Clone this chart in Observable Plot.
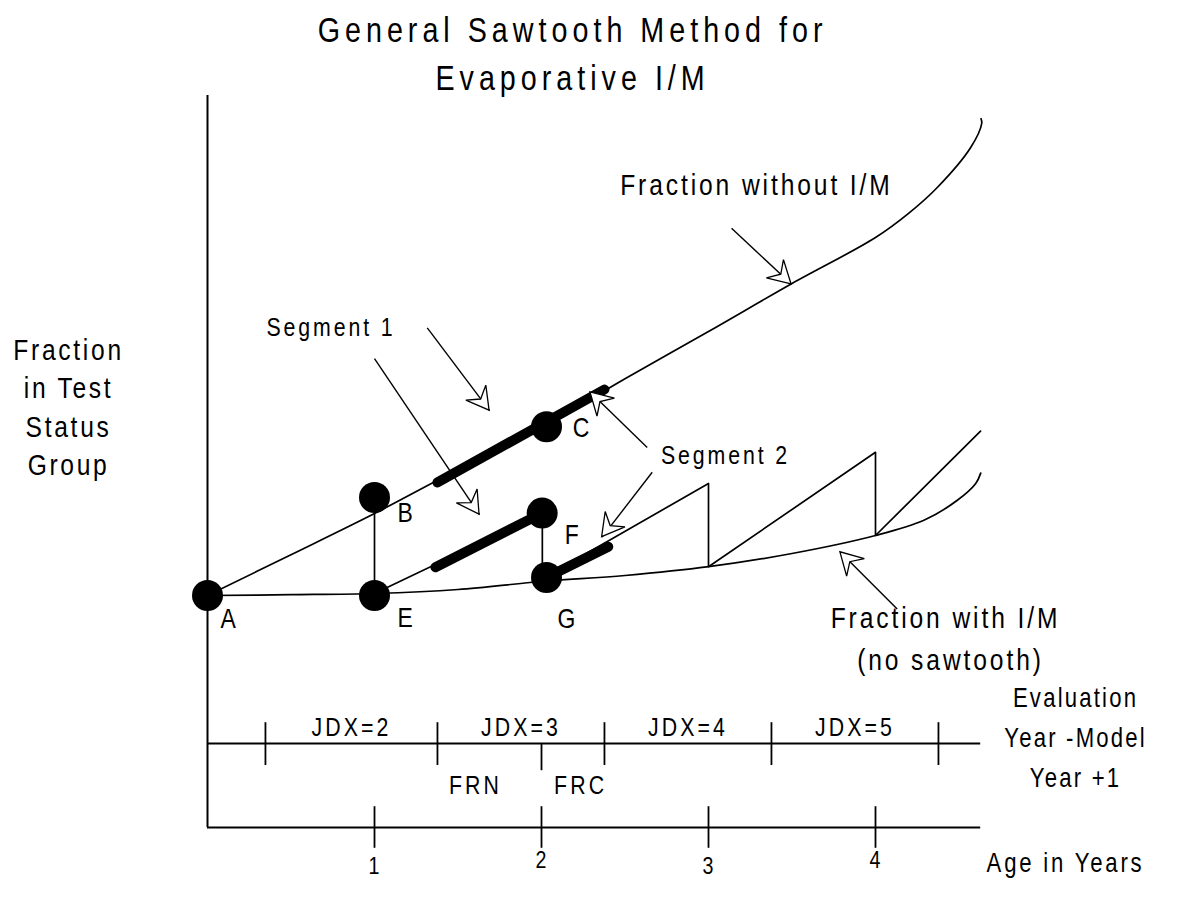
<!DOCTYPE html>
<html>
<head>
<meta charset="utf-8">
<script src="https://cdn.jsdelivr.net/npm/d3@7"></script>
<script src="https://cdn.jsdelivr.net/npm/@observablehq/plot@0.6"></script>
<style>
  body { margin: 0; background: #fff; }
  #chart { width: 1180px; height: 909px; }
</style>
</head>
<body>
<div id="chart"></div>
<script>
// ---- Data (age in years, fraction in test status group) ----
const titleLines = ["General Sawtooth Method for", "Evaporative I/M"];
const yLabelLines = ["Fraction", "in Test", "Status", "Group"];
const evalLabelLines = ["Evaluation", "Year -Model", "Year +1"];
const xLabel = "Age in Years";

// Fraction without I/M (upper curve)
const withoutAge  = [0, 0.5, 1, 1.5, 2, 2.5, 3, 3.5, 4, 4.2, 4.37, 4.57, 4.636, 4.632];
const withoutFrac = [0.29, 0.341, 0.3925, 0.4475, 0.50, 0.561, 0.62, 0.68, 0.7375, 0.768, 0.80, 0.85, 0.88, 0.886];

// Fraction with I/M, no sawtooth (lower curve)
const withAge  = [0, 0.5, 1, 1.5, 2, 2.5, 3, 3.5, 4, 4.29, 4.49, 4.6, 4.63];
const withFrac = [0.29, 0.291, 0.2925, 0.2975, 0.3075, 0.315, 0.326, 0.3425, 0.365, 0.384, 0.409, 0.43, 0.443];

// Sawtooth path
const sawAge  = [1, 2.005, 2.005, 3, 3, 4, 4, 4.629];
const sawFrac = [0.2925, 0.3925, 0.311, 0.43, 0.326, 0.469, 0.365, 0.4954];

// Labelled points
const pointNames = ["A", "B", "E", "C", "F", "G"];
const pointAge   = [0, 1, 1, 2.03, 2.004, 2.03];
const pointFrac  = [0.29, 0.4125, 0.29, 0.501, 0.393, 0.3125];

// Thick segments (segment 1 and segment 2)
const thickFromAge  = [1.377, 1.365, 2.03];
const thickFromFrac = [0.4313, 0.3254, 0.3125];
const thickToAge    = [2.377, 2.004, 2.4];
const thickToFrac   = [0.5475, 0.393, 0.351];

// Annotation arrows
const arrowFromAge  = [3.138, 1.316, 1.0, 2.633, 2.663, 4.13];
const arrowFromFrac = [0.749, 0.6245, 0.586, 0.475, 0.444, 0.273];
const arrowToAge    = [3.497, 1.689, 1.629, 2.293, 2.363, 3.79];
const arrowToFrac   = [0.679, 0.521, 0.391, 0.544, 0.363, 0.344];

// Axes
const ageTicks = [1, 2, 3, 4];
const ageTickLabels = ["1", "2", "3", "4"];
const jdxBounds = [0.347, 1.377, 2.377, 3.377, 4.377];
const jdxLabels = ["JDX=2", "JDX=3", "JDX=4", "JDX=5"];
const frLabels = ["FRN", "FRC"];

// ---- Type: condensed glyphs with wide tracking ----
const family = "'Liberation Sans', Arial, Helvetica, sans-serif";
const condense = 0.82;
// role: [fontSize, letterSpacing in screen px]
const S = {
  title: [35, 5], curve: [30, 2.9], ylab: [30, 2.7], seg: [26, 2.9], jdx: [26, 3.1],
  letter: [28, 1], evl: [27, 2.2], age: [27, 2.8], num: [24, 1]
};

// ---- Helpers ----
function arrowHeads(index, scales) {
  const sx = typeof scales.x === "function" ? scales.x : d3.scaleLinear([0, 4], [207, 875]);
  const sy = typeof scales.y === "function" ? scales.y : d3.scaleLinear([0, 1], [827, 27]);
  const g = d3.create("svg:g")
    .attr("fill", "white").attr("stroke", "black")
    .attr("stroke-width", 1.3).attr("stroke-linejoin", "miter");
  for (let i = 0; i < arrowToAge.length; i++) {
    const x1 = sx(arrowFromAge[i]), y1 = sy(arrowFromFrac[i]);
    const x2 = sx(arrowToAge[i]), y2 = sy(arrowToFrac[i]);
    const a = Math.atan2(y2 - y1, x2 - x1) * 180 / Math.PI;
    g.append("path")
      .attr("d", "M0,0L-22,-12.5L-14,0L-22,12.5Z")
      .attr("transform", `translate(${x2},${y2}) rotate(${a})`);
  }
  return g.node();
}

const txt = (role) => ({textAnchor: "middle", lineAnchor: "middle", fill: "black",
  fontSize: S[role][0], ariaDescription: role});

const plot = Plot.plot({
  width: 1180,
  height: 909,
  margin: 0,
  x: {domain: [0, 4], range: [207, 875], axis: null},
  y: {domain: [0, 1], range: [827, 27], axis: null},
  style: {fontFamily: family, background: "white", overflow: "visible"},
  marks: [
    // axes
    Plot.ruleX([0], {y1: 0, y2: 0.915, strokeWidth: 2, stroke: "black"}),
    Plot.ruleY([0, 0.105], {x1: 0, x2: 4.63, strokeWidth: 2, stroke: "black"}),
    Plot.ruleX(ageTicks, {y1: -0.026, y2: 0.026, strokeWidth: 1.8, stroke: "black"}),
    Plot.ruleX(jdxBounds, {y1: 0.0775, y2: 0.131, strokeWidth: 1.8, stroke: "black"}),
    Plot.ruleX([2], {y1: 0.071, y2: 0.105, strokeWidth: 1.8, stroke: "black"}),

    // curves
    Plot.line(withoutAge, {x: withoutAge, y: withoutFrac, curve: "catmull-rom", stroke: "black", strokeWidth: 1.7}),
    Plot.line(withAge, {x: withAge, y: withFrac, curve: "catmull-rom", stroke: "black", strokeWidth: 1.7}),
    Plot.line(sawAge, {x: sawAge, y: sawFrac, curve: "linear", stroke: "black", strokeWidth: 1.7}),
    Plot.ruleX([1], {y1: 0.29, y2: 0.3925, stroke: "black", strokeWidth: 1.7}),

    // thick segments
    Plot.link(thickFromAge, {x1: thickFromAge, y1: thickFromFrac, x2: thickToAge, y2: thickToFrac,
      stroke: "black", strokeWidth: 10, strokeLinecap: "round"}),

    // arrows: shafts then heads
    Plot.link(arrowFromAge, {x1: arrowFromAge, y1: arrowFromFrac, x2: arrowToAge, y2: arrowToFrac,
      stroke: "black", strokeWidth: 1.4}),
    arrowHeads,

    // points
    Plot.dot(pointNames, {x: pointAge, y: pointFrac, r: 15.5, fill: "black", stroke: "none"}),

    // point letters
    Plot.text(pointNames, {...txt("letter"),
      x: (d, i) => pointAge[i] + [0.126, 0.186, 0.186, 0.21, 0.18, 0.122][i],
      y: (d, i) => pointFrac[i] + [-0.029, -0.019, -0.028, -0.002, -0.028, -0.052][i],
      text: d => d}),

    // title
    Plot.text(titleLines, {...txt("title"), x: 2.186, y: (d, i) => [0.996, 0.936][i], text: d => d}),

    // y label
    Plot.text(yLabelLines, {...txt("ylab"), x: -0.832, y: (d, i) => 0.5963 - i * 0.048, text: d => d}),

    // curve labels
    Plot.text(["Fraction without I/M"], {...txt("curve"), x: 3.287, y: 0.8025, text: d => d}),
    Plot.text(["Fraction with I/M", "(no sawtooth)"], {...txt("curve"),
      x: (d, i) => [4.419, 4.449][i], y: (d, i) => [0.261, 0.209][i], text: d => d}),
    Plot.text(["Segment 1", "Segment 2"], {...txt("seg"),
      x: (d, i) => [0.7395, 3.102][i], y: (d, i) => [0.625, 0.465][i], text: d => d}),

    // evaluation axis labels
    Plot.text(jdxLabels, {...txt("jdx"),
      x: (d, i) => (jdxBounds[i] + jdxBounds[i + 1]) / 2, y: 0.1254, text: d => d}),
    Plot.text(frLabels, {...txt("jdx"),
      x: (d, i) => [1.605, 2.234][i], y: 0.0525, text: d => d}),
    Plot.text(evalLabelLines, {...txt("evl"), x: 5.198, y: (d, i) => 0.161 - i * 0.05, text: d => d}),

    // age axis labels
    Plot.text(ageTickLabels, {...txt("num"),
      x: ageTicks, y: (d, i) => i % 2 ? -0.0405 : -0.0488, text: d => d}),
    Plot.text([xLabel], {...txt("age"), x: 5.138, y: -0.045, text: d => d})
  ]
});

// condensed lettering with tracking, per text role
const sel = d3.select(plot);
for (const [role, [, ls]] of Object.entries(S)) {
  sel.selectAll(`g[aria-description='${role}'] text`).each(function () {
    const t = this.getAttribute("transform") || "";
    this.setAttribute("transform", `${t} scale(${condense},1)`);
    const x = this.getAttribute("x");
    if (x != null && x !== "") this.setAttribute("x", +x / condense);
    this.setAttribute("letter-spacing", ls / condense);
  });
}

document.getElementById("chart").appendChild(plot);
</script>
</body>
</html>
